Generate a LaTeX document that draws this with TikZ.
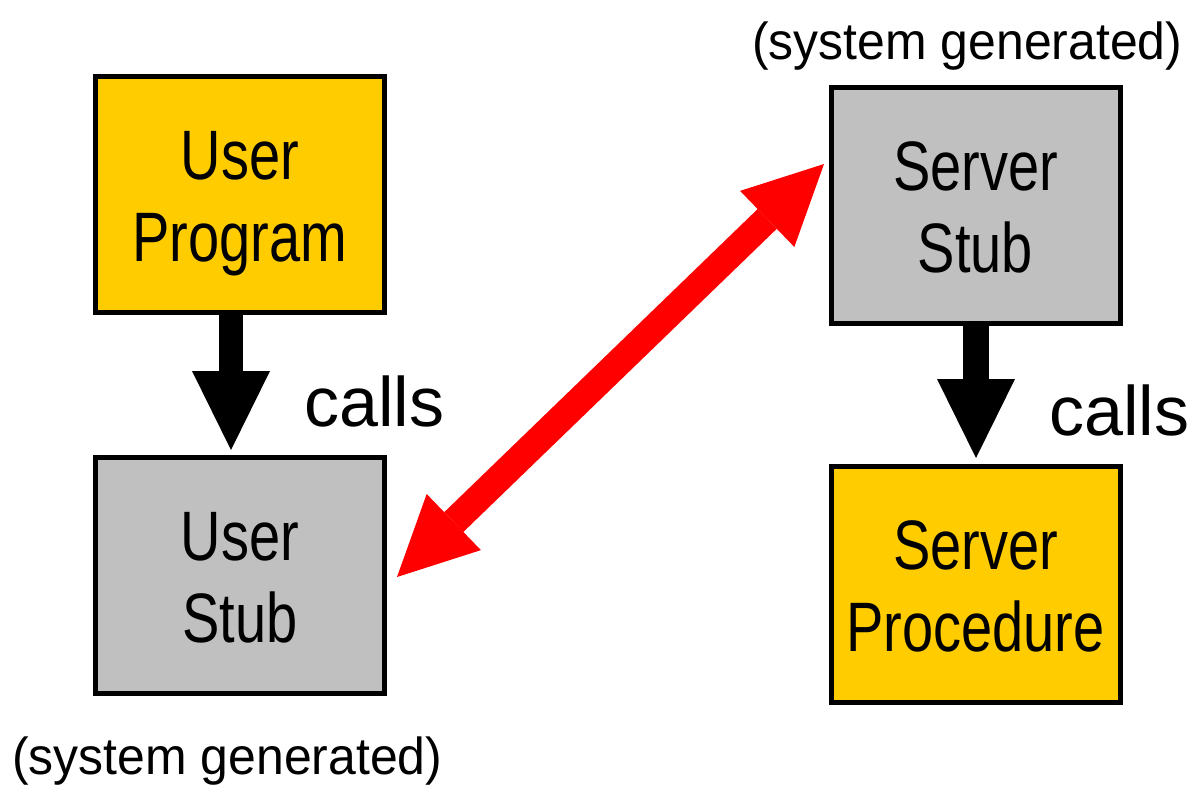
\documentclass[tikz,border=0pt]{standalone}
\usepackage{fontspec}
\setmainfont{Liberation Sans}
\newfontfamily\narrowsans[FakeStretch=0.8]{Liberation Sans}
\newfontfamily\notesans[FakeStretch=0.96]{Liberation Sans}
\usetikzlibrary{arrows.meta,calc}
\definecolor{boxyellow}{HTML}{FFCC00}
\definecolor{boxgray}{HTML}{C0C0C0}
\definecolor{linkred}{HTML}{FF0000}
\tikzset{
  box/.style={draw=black, line width=5pt, minimum width=289pt,
              minimum height=236pt, inner sep=0pt},
  boxlabel/.style={font=\narrowsans\fontsize{70}{82}\selectfont,
                   align=center, inner sep=0pt},
  callslabel/.style={font=\fontsize{70}{84}\selectfont, anchor=base west,
                     inner sep=0pt},
  genlabel/.style={font=\notesans\fontsize{52}{62}\selectfont, anchor=base west,
                   inner sep=0pt},
  thickarrow/.style={line width=#1, line cap=butt,
                     -{Triangle[length=79pt, width=78pt, line width=0pt]}},
  twoway/.style={line width=#1, line cap=butt,
                 {Triangle[length=79pt, width=78pt, line width=0pt]}-{Triangle[length=79pt, width=78pt, line width=0pt]}},
}
\begin{document}
\begin{tikzpicture}[x=1pt, y=-1pt]
  \useasboundingbox (0,0) rectangle (1197,787);

  % client side
  \node[box, fill=boxyellow] (up) at (240,194) {};
  \node[boxlabel] (uptext) at ($(up.center)+(0,9.6)$) {\strut User\\\strut Program};
  \node[box, fill=boxgray] (us) at (240,575) {};
  \node[boxlabel] (ustext) at ($(us.center)+(0,9.6)$) {\strut User\\\strut Stub};

  % server side
  \node[box, fill=boxgray] (ss) at (975.5,205) {};
  \node[boxlabel] (sstext) at ($(ss.center)+(0,9.6)$) {\strut Server\\\strut Stub};
  \node[box, fill=boxyellow] (sp) at (975.5,584) {};
  \node[boxlabel] (sptext) at ($(sp.center)+(0,9.6)$) {\strut Server\\\strut Procedure};

  % call arrows
  \draw[thickarrow=24pt, black] ($(up.south)+(-9,-1)$) -- ($(us.north)+(-9,-4.5)$);
  \draw[thickarrow=26pt, black] ($(ss.south)+(0.5,-1)$) -- ($(sp.north)+(0.5,-5.5)$);

  % stub to stub link
  \draw[twoway=27.5pt, linkred] ($(us.east)+(10,2)$) -- ($(ss.west)+(-4.5,-41)$);

  % labels
  \node[callslabel] (calls1) at (304,426) {calls};
  \node[callslabel] (calls2) at (1049,435) {calls};
  \node[genlabel] (gen1) at (12,774) {(system generated)};
  \node[genlabel] (gen2) at (752,59) {(system generated)};
\end{tikzpicture}
\end{document}
